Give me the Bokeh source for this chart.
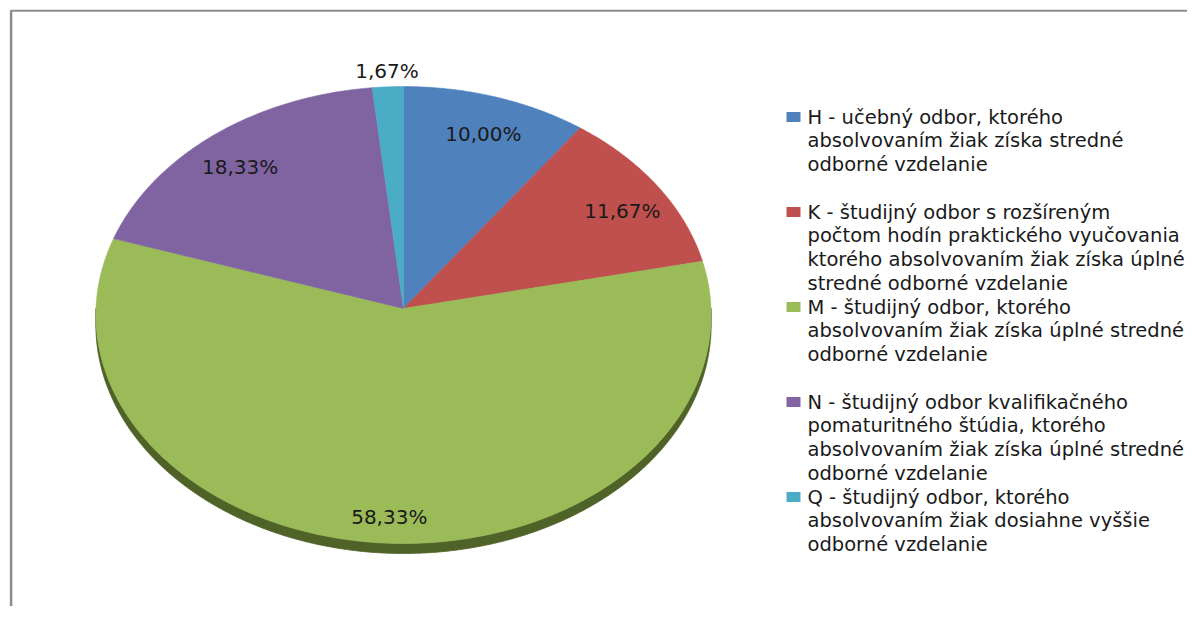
import math
from bokeh.plotting import figure
from bokeh.models import Range1d
from bokeh.embed import file_html
from bokeh.resources import INLINE
from bokeh.core.properties import value

# ---------------- data ----------------
categories = ["H", "K", "M", "N", "Q"]
shares = [10.00, 11.67, 58.33, 18.33, 1.67]
share_labels = ["10,00%", "11,67%", "58,33%", "18,33%", "1,67%"]
legend_lines = [
    ["H - učebný odbor, ktorého",
     "absolvovaním žiak získa stredné",
     "odborné vzdelanie"],
    ["K - študijný odbor s rozšíreným",
     "počtom hodín praktického vyučovania",
     "ktorého absolvovaním žiak získa úplné",
     "stredné odborné vzdelanie"],
    ["M - študijný odbor, ktorého",
     "absolvovaním žiak získa úplné stredné",
     "odborné vzdelanie"],
    ["N - študijný odbor kvalifikačného",
     "pomaturitného štúdia, ktorého",
     "absolvovaním žiak získa úplné stredné",
     "odborné vzdelanie"],
    ["Q - študijný odbor, ktorého",
     "absolvovaním žiak dosiahne vyššie",
     "odborné vzdelanie"],
]
top_colors = ["#4F81BD", "#C0504D", "#9BBB59", "#8064A2", "#4BACC6"]
side_colors = ["#385D8A", "#8C3836", "#4F6228", "#5C4776", "#31859C"]

# ---------------- layout ----------------
W, H = 1187, 606
CX, CY = 403.0, 308.0        # pie apex (px)
RX, RY = 307.5, 228.3        # ellipse radii
K = 0.0285                   # perspective strength
DEPTH = 10.0
FONT = "DejaVu Sans"


def proj(theta_deg, f=1.0):
    t = math.radians(theta_deg)
    X = f * math.sin(t)
    Y = -f * math.cos(t)
    w = 1.0 - K * Y
    return CX + RX * X / w, CY + RY * Y / w


def arc(t0, t1, n=None):
    if n is None:
        n = max(4, int(abs(t1 - t0) * 2))
    pts = [proj(t0 + (t1 - t0) * i / n) for i in range(n + 1)]
    return [q[0] for q in pts], [q[1] for q in pts]


p = figure(width=W, height=H,
           x_range=Range1d(0, W), y_range=Range1d(H, 0),
           output_backend="svg", toolbar_location=None,
           x_axis_type=None, y_axis_type=None, min_border=0)
p.outline_line_color = None
p.background_fill_color = "white"
p.border_fill_color = "white"

total = sum(shares)
bounds = []
acc = 0.0
for s in shares:
    t0 = acc / total * 360.0
    acc += s
    t1 = acc / total * 360.0
    bounds.append((t0, t1))

# sides (front half only)
sx, sy, sc = [], [], []
for (t0, t1), c in zip(bounds, side_colors):
    lo, hi = max(t0, 90.0), min(t1, 270.0)
    if hi > lo:
        ax, ay = arc(lo, hi)
        sx.append(ax + ax[::-1])
        sy.append(ay + [y + DEPTH for y in ay[::-1]])
        sc.append(c)
p.patches(sx, sy, fill_color=sc, line_color=sc, line_width=0.8)

# top faces
tx, ty = [], []
for (t0, t1) in bounds:
    ax, ay = arc(t0, t1)
    tx.append([CX] + ax)
    ty.append([CY] + ay)
p.patches(tx, ty, fill_color=top_colors, line_color=top_colors, line_width=0.6)

# data labels
lx, ly = [], []
for (t0, t1), s in zip(bounds, shares):
    mid = (t0 + t1) / 2.0
    if s / total < 0.05:
        x, y = proj(mid, 1.0)
        t = math.radians(mid)
        x += 16 * math.sin(t)
        y -= 16 * math.cos(t)
    else:
        x, y = proj(mid, 0.86)
        y += DEPTH * 0.8
    lx.append(x)
    ly.append(y)
p.text(lx, ly, text=share_labels, text_font=value(FONT), text_font_size="20px",
       text_align="center", text_baseline="middle", text_color="#1a1a1a")

# legend
LINE_H = 23.75
LEG_Y0 = 116.5
mx, my, gx, gy, gt = [], [], [], [], []
for i, lines in enumerate(legend_lines):
    y0 = LEG_Y0 + i * 4 * LINE_H
    mx.append(793.0)
    my.append(y0)
    for j, line in enumerate(lines):
        gx.append(807.0)
        gy.append(y0 + j * LINE_H)
        gt.append(line)
p.rect(mx, my, width=14, height=10, fill_color=top_colors, line_color=None)
p.text(gx, gy, text=gt, text_font=value(FONT), text_font_size="19.5px",
       text_align="left", text_baseline="middle", text_color="#1a1a1a")

# outer chart frame (left and top edges visible)
p.line([10.6, 10.6], [10, H], line_color="#8c8c8c", line_width=2.5)
p.line([10, W], [10.2, 10.2], line_color="#8c8c8c", line_width=2)

open("out.html", "w").write(file_html(p, INLINE))
